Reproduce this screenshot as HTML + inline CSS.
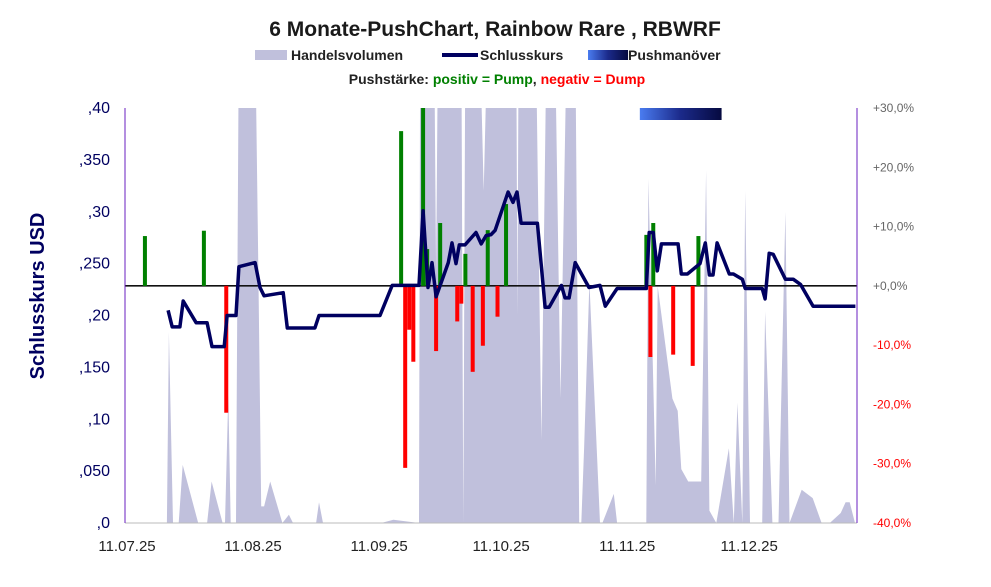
<!DOCTYPE html>
<html><head><meta charset="utf-8">
<style>
body{margin:0;background:#fff;}
svg{display:block;font-family:"Liberation Sans",Arial,sans-serif;}
</style></head>
<body>
<svg id="chart" width="991" height="587" viewBox="0 0 991 587" xmlns="http://www.w3.org/2000/svg">
<defs>
<linearGradient id="pg" x1="0" x2="1" y1="0" y2="0"><stop offset="0" stop-color="#4a7cf0"/><stop offset="0.5" stop-color="#1b2a8a"/><stop offset="1" stop-color="#060a40"/></linearGradient>
<clipPath id="plotclip"><rect x="125" y="108" width="732" height="415"/></clipPath>
</defs>
<text x="495" y="36" text-anchor="middle" font-size="21" font-weight="bold" fill="#1a1a1a">6 Monate-PushChart, Rainbow Rare , RBWRF</text>
<g font-size="14" font-weight="bold" fill="#222">
<rect x="255" y="50" width="32" height="10" fill="#c0c0dc"/>
<text x="291" y="60">Handelsvolumen</text>
<rect x="442" y="53" width="36" height="4" fill="#000060"/>
<text x="480" y="60">Schlusskurs</text>
<rect x="588" y="50" width="40" height="10" fill="url(#pg)"/>
<text x="628" y="60">Pushmanöver</text>
</g>
<text x="497" y="84" text-anchor="middle" font-size="14" font-weight="bold"><tspan fill="#222">Pushstärke:  </tspan><tspan fill="#008000">positiv = Pump</tspan><tspan fill="#222">,  </tspan><tspan fill="#ff0000">negativ = Dump</tspan></text>
<text transform="translate(44,296) rotate(-90)" text-anchor="middle" font-size="20" font-weight="bold" fill="#000060">Schlusskurs USD</text>
<g id="volume" clip-path="url(#plotclip)"></g>
<g id="marks"></g>
<g id="axes"></g>
</svg>
<script>
const volDays=[0,10.3,10.8,11.8,13.2,14.2,18.0,20.2,21.3,24.0,24.6,25.4,26.0,27.3,28.0,32.0,32.8,33.5,34.2,35.7,38.7,40.3,41.3,47.0,47.7,48.7,63,66,72.3,72.6,76.0,76.5,77.0,82.7,83.2,83.7,87.2,88.2,89.2,96.2,96.5,96.8,101,102.4,103.7,105.7,107.1,108.7,109.9,110.7,111.7,112.2,112.9,114.2,116.8,117.4,120.2,121.0,128.2,128.7,130.5,131.0,134.6,135.9,136.8,138.5,141.7,142.9,143.7,145.4,148.5,149.7,150.6,151.8,152.5,153.7,156.7,157.4,159.2,160.7,162.4,163.4,166.4,169.1,171.3,173.3,176.0,177.2,178.2,179.5];
const volVals=[0,0,46,0,0,14,0,0,10,0,0,31,0,0,120,120,60,4,4,10,0,2,0,0,5,0,0,0.8,0,120,120,60,120,120,0,120,120,80,120,120,50,120,120,20,120,120,30,120,120,120,0,0,18,58,0,0,7,0,0,83,9,57,30,27,13,10,10,85,3,0,18,0,29,0,80,0,0,51,0,0,75,0,8,6,0,0,2.4,5,5,0];
const priceDays=[10.6,11.6,13.5,14.3,17.5,20.2,21.4,24.4,25.1,27.3,28.0,32.0,33.2,34.2,38.9,39.9,46.7,47.7,62.7,65.7,72.3,73.3,74.5,75.5,76.5,79.5,80.4,81.4,82.2,83.6,86.3,87.6,88.8,90.0,91.0,94.2,95.4,96.4,97.4,101.4,103.3,104.3,107.3,108.2,109.2,110.7,114.1,116.8,118.1,121.0,128.2,128.9,129.9,130.9,131.9,136.0,136.8,138.3,141.4,142.7,143.7,144.6,145.6,148.6,149.6,151.8,152.5,156.7,157.4,158.4,159.4,162.4,164.3,166.1,169.2,178.4,179.6];
const priceVals=[.205,.189,.189,.214,.193,.193,.170,.170,.200,.200,.247,.251,.227,.219,.222,.188,.188,.200,.200,.229,.229,.301,.227,.251,.218,.251,.270,.250,.268,.268,.280,.269,.277,.278,.282,.319,.309,.319,.289,.289,.208,.208,.229,.217,.217,.251,.227,.229,.209,.226,.226,.280,.280,.243,.269,.269,.240,.240,.250,.270,.239,.239,.270,.240,.240,.235,.226,.226,.216,.260,.259,.235,.235,.230,.209,.209,.209];
const pushDays=[4.9,19.4,24.9,67.9,68.9,69.9,70.9,73.3,74.3,76.5,77.5,81.7,82.7,83.7,85.5,88.0,89.2,91.6,93.7,128.2,129.2,129.9,134.8,139.6,141.0];
const pushVals=[8.4,9.3,-21.4,26.1,-30.7,-7.4,-12.8,33,6.2,-11,10.6,-6,-3,5.4,-14.5,-10.1,9.4,-5.2,13.8,8.6,-12,10.6,-11.6,-13.5,8.4];
const leftTicks=[0,0.05,0.1,0.15,0.2,0.25,0.3,0.35,0.4];
const leftTickLabels=[",0",",050",",10",",150",",20",",250",",30",",350",",40"];
const rightTicks=[-40,-30,-20,-10,0,10,20,30];
const rightTickLabels=["-40,0%","-30,0%","-20,0%","-10,0%","+0,0%","+10,0%","+20,0%","+30,0%"];
const xTickDays=[0,31,62,92,123,153];
const xTickLabels=["11.07.25","11.08.25","11.09.25","11.10.25","11.11.25","11.12.25"];
const pushPeriod=[126.6,146.7];

const X0=125,X1=857,Y0=523,Y1=108,NDAYS=180;
const xs=d=>X0+d*(X1-X0)/NDAYS;
const yl=v=>Y0-v*(Y0-Y1)/0.4;
const yr=p=>Y0-(p+40)*(Y0-Y1)/70;
const yv=v=>Y0-v*(Y0-Y1)/100;
const NS="http://www.w3.org/2000/svg";
function mk(tag,attrs,parent){const e=document.createElementNS(NS,tag);for(const k in attrs)e.setAttribute(k,attrs[k]);parent.appendChild(e);return e;}
const vg=document.getElementById('volume'),mg=document.getElementById('marks'),ag=document.getElementById('axes');

let vp=volDays.map((d,i)=>xs(d).toFixed(1)+','+yv(volVals[i]).toFixed(1)).join(' ');
vp=xs(volDays[0])+','+Y0+' '+vp+' '+xs(volDays[volDays.length-1])+','+Y0;
const va=mk('polygon',{points:vp,fill:'#c0c0dc'},vg);



const zl=mk('line',{x1:X0,x2:X1,y1:yr(0),y2:yr(0),stroke:'#111','stroke-width':1.6},mg);



pushDays.forEach((d,i)=>{const v=pushVals[i];const top=Math.max(Math.max(yr(v),yr(0)),Y1);const y=v>=0?Math.max(yr(v),Y1):yr(0);const h=v>=0?yr(0)-y:yr(v)-yr(0);
const r=mk('rect',{x:xs(d)-2,y:y,width:4,height:h,fill:v>=0?'#008000':'#ff0000'},mg);

});

const pl=mk('polyline',{points:priceDays.map((d,i)=>xs(d).toFixed(1)+','+yl(priceVals[i]).toFixed(1)).join(' '),fill:'none',stroke:'#000060','stroke-width':3.5,'stroke-linejoin':'round'},mg);



const pb=mk('rect',{x:xs(pushPeriod[0]),y:Y1,width:xs(pushPeriod[1])-xs(pushPeriod[0]),height:12,fill:'url(#pg)'},mg);



const bl=mk('line',{x1:X0,x2:X1,y1:Y0,y2:Y0,stroke:'#bbb','stroke-width':1},ag);


const ll=mk('line',{x1:X0,x2:X0,y1:Y1,y2:Y0,stroke:'#6a1fc0','stroke-width':1},ag);


const rl=mk('line',{x1:X1,x2:X1,y1:Y1,y2:Y0,stroke:'#6a1fc0','stroke-width':1},ag);



leftTicks.forEach((v,i)=>{const t=mk('text',{x:110,y:yl(v)+5,'text-anchor':'end','font-size':16,fill:'#000060'},ag);t.textContent=leftTickLabels[i];

});
rightTicks.forEach((v,i)=>{const t=mk('text',{x:873,y:yr(v)+4,'font-size':12,fill:v<0?'#ff0000':'#666'},ag);t.textContent=rightTickLabels[i];

});
xTickDays.forEach((d,i)=>{const t=mk('text',{x:xs(d)+2,y:551,'text-anchor':'middle','font-size':15,fill:'#222'},ag);t.textContent=xTickLabels[i];

});
</script>
</body></html>
